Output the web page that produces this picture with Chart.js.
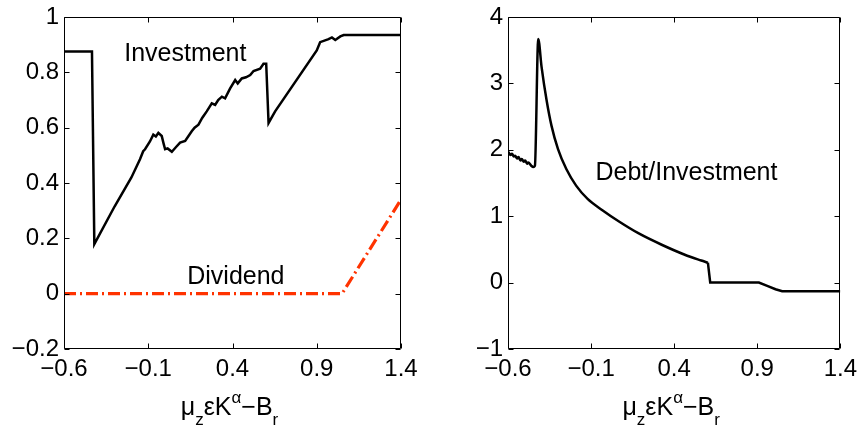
<!DOCTYPE html>
<html>
<head>
<meta charset="utf-8">
<script src="https://cdn.jsdelivr.net/npm/chart.js@4.4.0/dist/chart.umd.min.js"></script>
<style>
  body { margin: 0; background: #fff; width: 865px; height: 430px; position: relative; overflow: hidden; }
  .box { position: absolute; top: 0; height: 430px; }
</style>
</head>
<body>
<div class="box" style="left:0;width:432px"><canvas id="left" width="432" height="430"></canvas></div>
<div class="box" style="left:435px;width:430px"><canvas id="right" width="430" height="430"></canvas></div>
<script>
// x axis shared by both panels
const xTicks = [-0.6, -0.1, 0.4, 0.9, 1.4];
const leftYTicks = [-0.2, 0, 0.2, 0.4, 0.6, 0.8, 1];
const rightYTicks = [-1, 0, 1, 2, 3, 4];

// Investment (left panel)
const invX = [-0.6, -0.434, -0.42, -0.3, -0.2, -0.149, -0.13, -0.119, -0.09, -0.07, -0.055, -0.04, -0.02, -0.01, 0.0,
  0.015, 0.04, 0.065, 0.089, 0.119, 0.158, 0.175, 0.198, 0.22, 0.247, 0.277, 0.297, 0.315, 0.337, 0.356, 0.386,
  0.416, 0.431, 0.455, 0.48, 0.505, 0.525, 0.564, 0.584, 0.6, 0.614, 0.653, 0.9, 0.92, 0.97, 0.99, 1.01, 1.04, 1.06, 1.4];
const invY = [0.875, 0.875, 0.179, 0.315, 0.42, 0.486, 0.515, 0.522, 0.55, 0.575, 0.568, 0.581, 0.570, 0.545, 0.522,
  0.525, 0.513, 0.53, 0.546, 0.552, 0.587, 0.60, 0.611, 0.635, 0.659, 0.688, 0.682, 0.70, 0.712, 0.706, 0.742,
  0.772, 0.760, 0.778, 0.782, 0.790, 0.805, 0.813, 0.831, 0.831, 0.617, 0.659, 0.879, 0.909, 0.920, 0.926, 0.917, 0.930, 0.935, 0.935];

// Dividend (left panel)
const divX = [-0.6, 1.05, 1.4];
const divY = [0, 0, 0.34];

// Debt/Investment (right panel)
const debtX = [-0.6, -0.596, -0.585, -0.576, -0.565, -0.557, -0.545, -0.537, -0.525, -0.517, -0.505, -0.497, -0.485,
  -0.478, -0.46, -0.448, -0.438, -0.418, -0.398, -0.368, -0.338, -0.299, -0.249, -0.19, -0.121, -0.032, 0.068,
  0.187, 0.325, 0.464, 0.563, 0.603, 0.617, 0.91, 0.96, 1.01, 1.05, 1.4];
const debtY = [1.97, 1.96, 1.92, 1.94, 1.90, 1.91, 1.87, 1.89, 1.84, 1.86, 1.82, 1.84, 1.79,
  1.81, 1.76, 1.74, 1.76, 3.668, 3.25, 2.75, 2.36, 2.01, 1.71, 1.46, 1.26, 1.09, 0.92,
  0.74, 0.57, 0.42, 0.333, 0.30, 0.0, 0.0, -0.05, -0.10, -0.13, -0.13];

const FONT = "'Liberation Sans', Arial, Helvetica, sans-serif";
const fmt = v => String(v).replace('-', '\u2212');
const pts = (xs, ys) => xs.map((x, i) => ({ x: x, y: ys[i] }));

// Box round the plot plus inward ticks on all four sides (MATLAB look)
const frameTicks = {
  id: 'frameTicks',
  afterDraw(chart) {
    const { ctx, chartArea: a, scales } = chart;
    const L = Math.round(a.left) + 0.5, R = Math.round(a.right) - 0.5;
    const T = Math.round(a.top) + 0.5, B = Math.round(a.bottom) - 0.5;
    ctx.save();
    ctx.strokeStyle = '#000';
    ctx.lineWidth = 1;
    ctx.beginPath();
    ctx.rect(L, T, R - L, B - T);
    scales.x.ticks.forEach(t => {
      const px = Math.round(scales.x.getPixelForValue(t.value)) + 0.5;
      ctx.moveTo(px, B); ctx.lineTo(px, B - 5);
      ctx.moveTo(px, T); ctx.lineTo(px, T + 5);
    });
    scales.y.ticks.forEach(t => {
      const py = Math.round(scales.y.getPixelForValue(t.value)) + 0.5;
      ctx.moveTo(L, py); ctx.lineTo(L + 5, py);
      ctx.moveTo(R, py); ctx.lineTo(R - 5, py);
    });
    ctx.stroke();
    ctx.restore();
  }
};

// In-plot labels and the x title with sub/superscripts
const textLayer = {
  id: 'textLayer',
  afterDraw(chart, args, opts) {
    const { ctx, chartArea: a, scales } = chart;
    ctx.save();
    ctx.fillStyle = '#000';
    ctx.textBaseline = 'alphabetic';
    ctx.textAlign = 'center';
    ctx.font = '25px ' + FONT;
    (opts.notes || []).forEach(n => {
      ctx.fillText(n.text, scales.x.getPixelForValue(n.x), scales.y.getPixelForValue(n.y));
    });
    // x title: mu_z eps K^alpha - B_r
    const parts = [
      ['\u03bc', 0], ['z', 1], ['\u03b5', 0], ['K', 0], ['\u03b1', -1], ['\u2212', 0], ['B', 0], ['r', 1]
    ];
    const big = '25px ' + FONT, small = '17px ' + FONT;
    ctx.textAlign = 'left';
    let total = 0;
    parts.forEach(p => { ctx.font = p[1] ? small : big; total += ctx.measureText(p[0]).width; });
    let x = (a.left + a.right) / 2 - total / 2 - 3;
    const base = opts.titleBase;
    parts.forEach(p => {
      ctx.font = p[1] ? small : big;
      const y = p[1] === 1 ? base + 10 : p[1] === -1 ? base - 12 : base;
      ctx.fillText(p[0], x, y);
      x += ctx.measureText(p[0]).width;
    });
    ctx.restore();
  }
};

function makeChart(id, cfg) {
  const tickFont = { family: FONT, size: 24, lineHeight: 1 };
  return new Chart(document.getElementById(id), {
    type: 'line',
    data: { datasets: cfg.datasets },
    options: {
      responsive: false,
      animation: false,
      devicePixelRatio: 1,
      layout: { padding: { top: 13, right: cfg.padRight, left: 0, bottom: 0 } },
      elements: { point: { radius: 0 }, line: { tension: 0 } },
      scales: {
        x: {
          type: 'linear', min: -0.6, max: 1.4,
          afterBuildTicks: s => { s.ticks = xTicks.map(v => ({ value: v })); },
          afterFit: s => { s.height = 81; },
          grid: { display: false, drawTicks: false },
          border: { display: false },
          ticks: { font: tickFont, color: '#000', padding: 8, maxRotation: 0, autoSkip: false, callback: fmt }
        },
        y: {
          type: 'linear', min: cfg.yMin, max: cfg.yMax,
          afterBuildTicks: s => { s.ticks = cfg.yTicks.map(v => ({ value: v })); },
          afterFit: s => { s.width = cfg.yWidth; },
          grid: { display: false, drawTicks: false },
          border: { display: false },
          ticks: { font: tickFont, color: '#000', padding: 5, autoSkip: false, callback: fmt }
        }
      },
      plugins: {
        legend: { display: false },
        tooltip: { enabled: false },
        textLayer: { notes: cfg.notes, titleBase: 415 }
      }
    },
    plugins: [frameTicks, textLayer]
  });
}

makeChart('left', {
  yMin: -0.2, yMax: 1, yTicks: leftYTicks, yWidth: 64, padRight: 31,
  datasets: [
    { label: 'Investment', data: pts(invX, invY), borderColor: '#000', borderWidth: 2.5 },
    { label: 'Dividend', data: pts(divX, divY), borderColor: '#ff3300', borderWidth: 3.2, borderDash: [12, 4, 2, 4] }
  ],
  notes: [
    { text: 'Investment', x: 0.12, y: 0.842 },
    { text: 'Dividend', x: 0.42, y: 0.035 }
  ]
});

// smooth decay up to the drop, straight segments after it
const cut = debtX.indexOf(0.603);
const debtPts = pts(debtX, debtY);
makeChart('right', {
  yMin: -1, yMax: 4, yTicks: rightYTicks, yWidth: 73, padRight: 21,
  datasets: [
    { label: 'Debt/Investment', data: debtPts.slice(0, cut + 1), borderColor: '#000', borderWidth: 2.5,
      cubicInterpolationMode: 'monotone' },
    { label: 'Debt/Investment (flat)', data: debtPts.slice(cut), borderColor: '#000', borderWidth: 2.5 }
  ],
  notes: [
    { text: 'Debt/Investment', x: 0.474, y: 1.54 }
  ]
});
</script>
</body>
</html>
